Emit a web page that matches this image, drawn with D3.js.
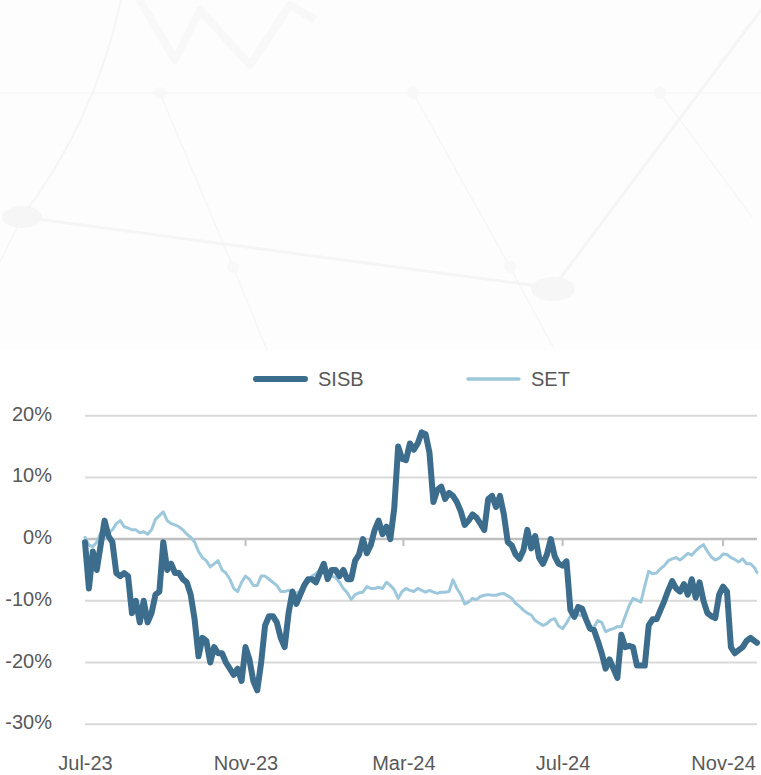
<!DOCTYPE html>
<html>
<head>
<meta charset="utf-8">
<script src="https://cdn.jsdelivr.net/npm/d3@7/dist/d3.min.js"></script>
<style>
  html, body { margin: 0; padding: 0; background: #ffffff; }
  svg { display: block; }
  text { font-family: "Liberation Sans", Arial, sans-serif; }
</style>
</head>
<body>
<svg id="chart" width="761" height="775"></svg>
<script>
// ---- data ----
const dates = [
  "2023-07-01","2023-07-04","2023-07-07","2023-07-10","2023-07-13","2023-07-16","2023-07-19","2023-07-22","2023-07-25","2023-07-28","2023-07-31",
  "2023-08-03","2023-08-06","2023-08-09","2023-08-12","2023-08-15","2023-08-18","2023-08-21","2023-08-24","2023-08-27","2023-08-30",
  "2023-09-02","2023-09-05","2023-09-08","2023-09-11","2023-09-14","2023-09-17","2023-09-20","2023-09-23","2023-09-26","2023-09-29",
  "2023-10-02","2023-10-05","2023-10-08","2023-10-11","2023-10-14","2023-10-17","2023-10-20","2023-10-23","2023-10-26","2023-10-29",
  "2023-11-01","2023-11-04","2023-11-07","2023-11-10","2023-11-13","2023-11-16","2023-11-19","2023-11-22","2023-11-25","2023-11-28",
  "2023-12-01","2023-12-04","2023-12-07","2023-12-10","2023-12-13","2023-12-16","2023-12-19","2023-12-22","2023-12-25","2023-12-28","2023-12-31",
  "2024-01-03","2024-01-06","2024-01-09","2024-01-12","2024-01-15","2024-01-18","2024-01-21","2024-01-24","2024-01-27","2024-01-30",
  "2024-02-02","2024-02-05","2024-02-08","2024-02-11","2024-02-14","2024-02-17","2024-02-20","2024-02-23","2024-02-26","2024-02-29",
  "2024-03-03","2024-03-06","2024-03-09","2024-03-12","2024-03-15","2024-03-18","2024-03-21","2024-03-24","2024-03-27","2024-03-30",
  "2024-04-02","2024-04-05","2024-04-08","2024-04-11","2024-04-14","2024-04-17","2024-04-20","2024-04-23","2024-04-26","2024-04-29",
  "2024-05-02","2024-05-05","2024-05-08","2024-05-11","2024-05-14","2024-05-17","2024-05-20","2024-05-23","2024-05-26","2024-05-29",
  "2024-06-01","2024-06-04","2024-06-07","2024-06-10","2024-06-13","2024-06-16","2024-06-19","2024-06-22","2024-06-25","2024-06-28",
  "2024-07-01","2024-07-04","2024-07-07","2024-07-10","2024-07-13","2024-07-16","2024-07-19","2024-07-22","2024-07-25","2024-07-28","2024-07-31",
  "2024-08-03","2024-08-06","2024-08-09","2024-08-12","2024-08-15","2024-08-18","2024-08-21","2024-08-24","2024-08-27","2024-08-30",
  "2024-09-02","2024-09-05","2024-09-08","2024-09-11","2024-09-14","2024-09-17","2024-09-20","2024-09-23","2024-09-26","2024-09-29",
  "2024-10-02","2024-10-05","2024-10-08","2024-10-11","2024-10-14","2024-10-17","2024-10-20","2024-10-23","2024-10-26","2024-10-29",
  "2024-11-01","2024-11-04","2024-11-07","2024-11-10","2024-11-13","2024-11-16","2024-11-19","2024-11-22","2024-11-25","2024-11-27"
];

const sisb = [
  -0.5,-8,-2,-5,-1,3,0.5,-0.5,-5.5,-6,-5.5,
  -6,-12,-10,-13.5,-10,-13.5,-12,-9,-8.5,-0.5,
  -5,-4,-5.5,-5.5,-6.5,-7,-9,-13,-19,-16,
  -16.5,-20,-17.5,-18.5,-18.5,-20,-21,-22,-21,-23,
  -17.5,-19.5,-23,-24.5,-20,-14,-12.5,-12.5,-13.5,-16,
  -17.5,-12,-8.5,-10.5,-9,-7.5,-6.5,-6.5,-7,-5.5,-4,
  -6.5,-5,-5,-6,-5,-6.5,-6.5,-3.5,-2.5,0,
  -2.3,-1,1.5,3,0.8,2,0,5,15,13,
  12.8,15.5,14.5,15.5,17.3,17,14,6,8,8.5,
  6.5,7.5,7,6,4.5,2.3,3,4,3.5,2.5,
  1.5,6.5,7,5.2,7,4,-0.5,-1,-2.5,-3.2,
  -1.8,1.5,-1.5,0.5,-3,-4,-2.5,0,-2.8,-4,
  -4.3,-3.6,-11.5,-12.6,-11,-11.3,-13,-14.5,-14.7,-16.5,-18.5,
  -21,-19.5,-21,-22.5,-15.5,-17.5,-17.3,-17.5,-20.5,-20.5,
  -20.5,-14,-13,-13,-11.5,-10,-8.3,-6.8,-8,-8.5,
  -7.3,-9,-6.5,-9.5,-7,-10,-12,-12.5,-12.8,-9,
  -7.7,-8.5,-17.5,-18.5,-18,-17.5,-16.5,-16,-16.5,-16.8
];

const setIndex = [
  0.3,-1,-1.2,-0.5,1,1.3,1,1.5,2.5,3,2,
  1.8,1.5,1.5,1,1.2,0.8,1.5,3.2,3.8,4.4,
  3,2.5,2.3,2,1.5,0.8,0.3,-0.5,-2,-3,
  -3.5,-4.5,-4,-3.5,-5,-5.5,-6.5,-8,-8.5,-7,
  -6,-6.5,-7.5,-7.5,-6,-6,-6.5,-7,-7.5,-8.5,
  -8.5,-8.3,-8.5,-8.8,-8.3,-7.3,-7,-6,-5.6,-5,-5,
  -5.5,-6,-6.2,-7,-8,-8.7,-9.8,-9,-8.7,-8.6,
  -7.7,-8,-8,-7.8,-8,-7,-7.5,-8.2,-9.6,-8.5,
  -8,-8.3,-8.5,-8,-8.3,-8.6,-8.3,-8.6,-8.8,-8.6,
  -8.6,-8.5,-6.6,-8,-9,-10.5,-10.2,-9.6,-9.8,-9.3,
  -9.1,-9,-9.1,-9.1,-8.9,-8.8,-9.2,-9.6,-10.4,-10.9,
  -11.5,-12,-12.3,-13.2,-13.6,-14,-13.7,-13.1,-12.9,-14.1,
  -14.5,-13.6,-12.5,-12,-12.3,-12.4,-13.3,-14.2,-14.3,-13.2,-13.5,
  -15,-14.7,-14.5,-14.2,-14.2,-12.5,-10.8,-9.6,-9.9,-10.2,
  -7.6,-5.2,-5.6,-5.5,-4.8,-4.3,-3.5,-3.2,-3.0,-3.4,
  -2.9,-2.3,-2.6,-1.9,-1.3,-0.9,-2,-2.9,-3.4,-3.1,
  -2.4,-2.5,-3,-3.3,-3.7,-3.2,-4.0,-4.0,-4.6,-5.4
];

const seriesNames = ["SISB", "SET"];
const seriesColors = ["#3c6d8d", "#9dc8dc"];
const yTicks = [20, 10, 0, -10, -20, -30];
const xTickDates = ["2023-07-01", "2023-11-01", "2024-03-01", "2024-07-01", "2024-11-01"];

// ---- drawing ----
const svg = d3.select("#chart");
const parse = d3.utcParse("%Y-%m-%d");
const dts = dates.map(parse);

// faint decorative background (top)
const bg = svg.append("g");
bg.append("rect").attr("x", 0).attr("y", 0).attr("width", 761).attr("height", 350).attr("fill", "#fdfdfd");
const bgStroke = "#f5f5f5";
const bgLines = [
  [[22, 217], [553, 288]],
  [[553, 288], [761, 10]],
  [[0, 262], [22, 217]],
  [[160, 93], [233, 267]], [[233, 267], [267, 350]],
  [[413, 93], [510, 267]], [[510, 267], [553, 347]],
  [[660, 93], [752, 217]],
  [[0, 93], [761, 93]]
];
bgLines.forEach((l, k) => {
  bg.append("line")
    .attr("x1", l[0][0]).attr("y1", l[0][1]).attr("x2", l[1][0]).attr("y2", l[1][1])
    .attr("stroke", bgStroke).attr("stroke-width", k < 2 ? 3 : 1.2);
});
bg.append("path").attr("d", "M22,217 Q95,120 121,0").attr("fill", "none").attr("stroke", bgStroke).attr("stroke-width", 2);
bg.append("ellipse").attr("cx", 22).attr("cy", 217).attr("rx", 20).attr("ry", 11).attr("fill", "#f6f6f6");
bg.append("ellipse").attr("cx", 553).attr("cy", 289).attr("rx", 22).attr("ry", 12).attr("fill", "#f6f6f6");
[[160, 93], [413, 93], [660, 93], [233, 267], [510, 267]].forEach(p => {
  bg.append("circle").attr("cx", p[0]).attr("cy", p[1]).attr("r", 6).attr("fill", "#f8f8f8");
});
bg.append("path").attr("d", "M140,0 L175,60 L200,10 L250,65 L290,5 L315,20")
  .attr("fill", "none").attr("stroke", "#f8f8f8").attr("stroke-width", 8).attr("stroke-linejoin", "round");

// scales
const x = d3.scaleUtc().domain([dts[0], dts[dts.length - 1]]).range([85, 757]);
const y = d3.scaleLinear().domain([-30, 20]).range([724.2, 415.7]);

// gridlines
const grid = svg.append("g");
yTicks.forEach(t => {
  grid.append("line")
    .attr("x1", 85).attr("x2", 757)
    .attr("y1", y(t)).attr("y2", y(t))
    .attr("stroke", t === 0 ? "#bfbfbf" : "#d9d9d9")
    .attr("stroke-width", t === 0 ? 2.5 : 2);
});

// x tick marks on the zero line
xTickDates.slice(1).map(parse).forEach(d => {
  grid.append("line")
    .attr("x1", x(d)).attr("x2", x(d))
    .attr("y1", y(0)).attr("y2", y(0) + 7)
    .attr("stroke", "#bfbfbf").attr("stroke-width", 2);
});

// y axis labels
const yAxis = d3.axisLeft(y).tickValues(yTicks).tickSize(0).tickPadding(0).tickFormat(d => d + "%");
const yg = svg.append("g").attr("transform", "translate(52,0)").call(yAxis);
yg.select(".domain").remove();
yg.selectAll("text")
  .attr("x", 0).attr("dy", null).attr("dominant-baseline", "auto")
  .attr("y", 4.5)
  .attr("fill", "#595959").style("font-size", "20px")
  .style("font-family", "'Liberation Sans', Arial, sans-serif");

// x axis labels
const fmt = d3.utcFormat("%b-%y");
const xAxis = d3.axisBottom(x).tickValues(xTickDates.map(parse)).tickSize(0).tickPadding(0).tickFormat(fmt);
const xg = svg.append("g").attr("transform", "translate(0,770)").call(xAxis);
xg.select(".domain").remove();
xg.selectAll("text")
  .attr("y", 0).attr("dy", null)
  .attr("fill", "#595959").style("font-size", "20px")
  .style("font-family", "'Liberation Sans', Arial, sans-serif");

// lines
const line = d3.line().x((d, i) => x(dts[i])).y(d => y(d)).curve(d3.curveLinear);
svg.append("path").datum(setIndex)
  .attr("d", line).attr("fill", "none")
  .attr("stroke", seriesColors[1]).attr("stroke-width", 3)
  .attr("stroke-linejoin", "round").attr("stroke-linecap", "round");
svg.append("path").datum(sisb)
  .attr("d", line).attr("fill", "none")
  .attr("stroke", seriesColors[0]).attr("stroke-width", 6)
  .attr("stroke-linejoin", "round").attr("stroke-linecap", "round");

// legend
const legend = svg.append("g");
const legendItems = [
  { name: seriesNames[0], color: seriesColors[0], w: 6, x1: 256, x2: 305, tx: 318 },
  { name: seriesNames[1], color: seriesColors[1], w: 3.5, x1: 468, x2: 519, tx: 531 }
];
legendItems.forEach(it => {
  legend.append("line")
    .attr("x1", it.x1).attr("x2", it.x2).attr("y1", 379).attr("y2", 379)
    .attr("stroke", it.color).attr("stroke-width", it.w).attr("stroke-linecap", "round");
  legend.append("text")
    .attr("x", it.tx).attr("y", 386)
    .attr("fill", "#595959").style("font-size", "20px")
    .text(it.name);
});
</script>
</body>
</html>
